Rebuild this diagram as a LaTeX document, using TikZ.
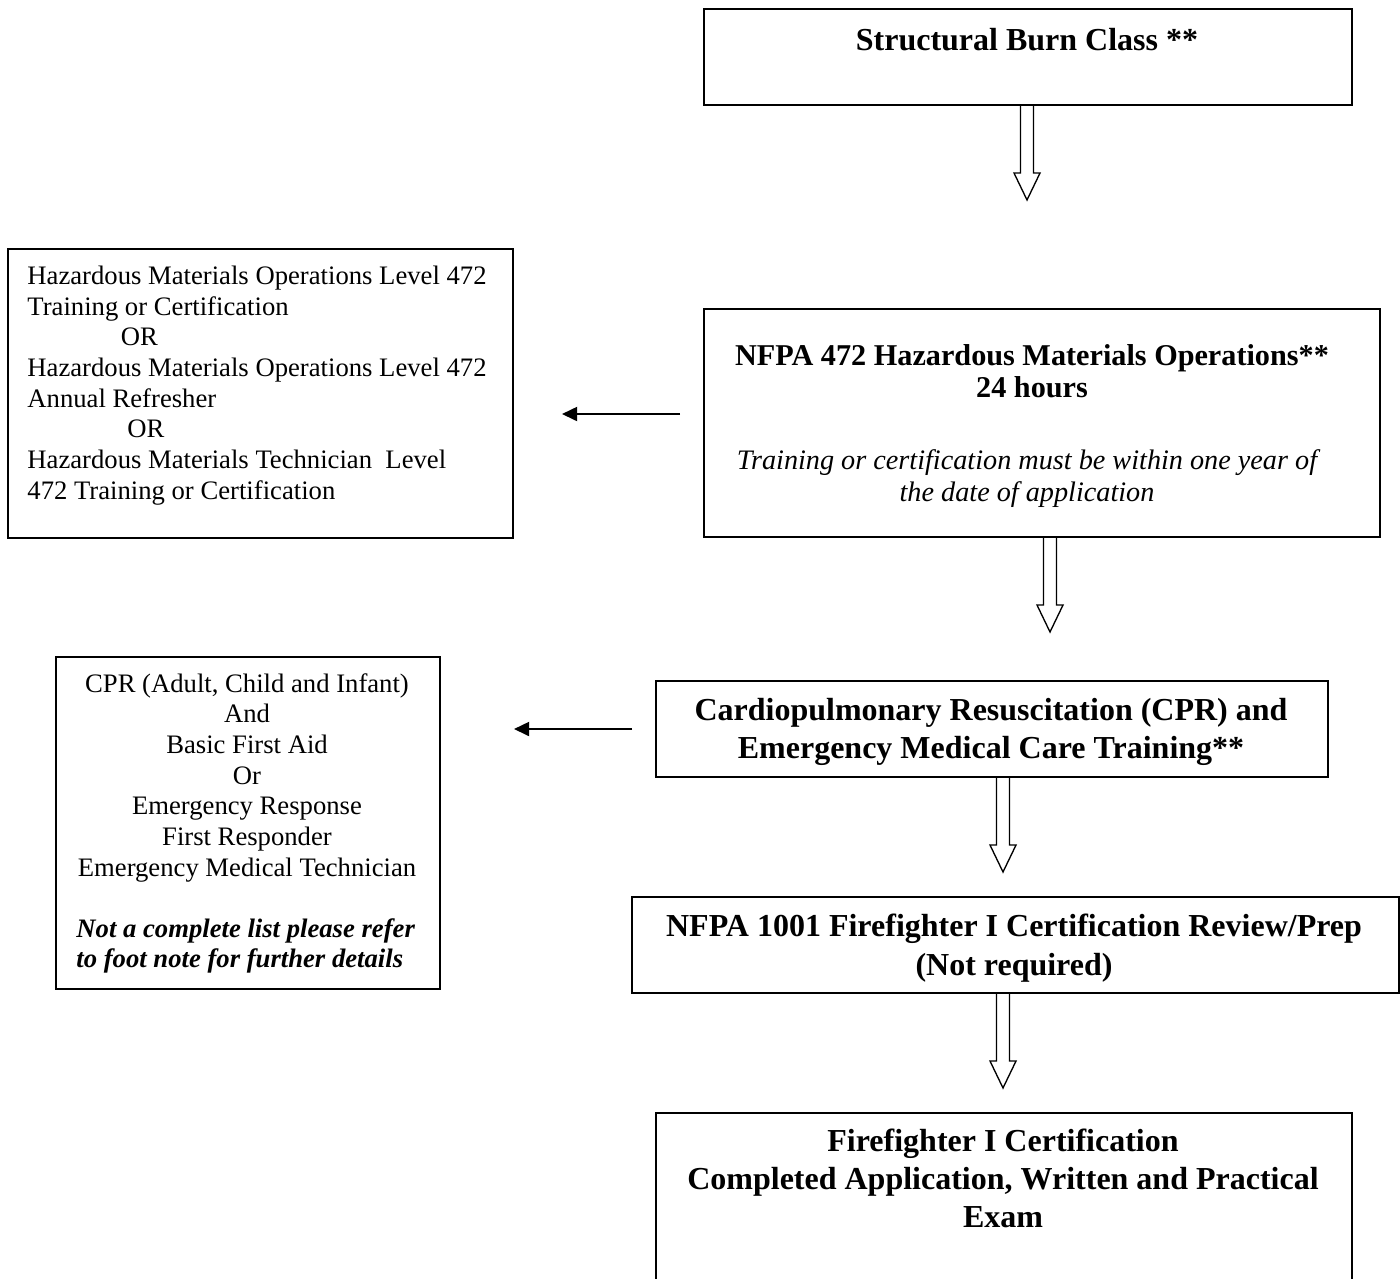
\documentclass[tikz,border=0pt]{standalone}
\usepackage{fontspec}
\setmainfont{Liberation Serif}
\usetikzlibrary{calc,arrows.meta}
\def\pxu{0.45pt}
\tikzset{
  box/.style={draw, line width=0.9pt, anchor=north west, inner sep=0pt},
  hollow/.style={draw, line width=0.6pt, line join=miter},
  sidearrow/.style={line width=0.9pt, -{Triangle[length=6.8pt,width=6.3pt]}},
  rtext/.style={font=\fontsize{12}{13.8}\selectfont, inner sep=0pt, anchor=base, align=center},
  btext/.style={font=\fontsize{14.4}{17.1}\selectfont\bfseries, inner sep=0pt, anchor=base, align=center},
}
\newcommand\hollowarrow[2]{%
  \draw[hollow] ($(#1)+(-6.5,0)$) -- ($(#2)+(-6.5,-27)$) -- ($(#2)+(-13,-27)$) -- (#2)
    -- ($(#2)+(13,-27)$) -- ($(#2)+(6.5,-27)$) -- ($(#1)+(6.5,0)$);}
\begin{document}
\begin{tikzpicture}[x=0.45pt,y=-0.45pt]
\useasboundingbox (0,0) rectangle (1400,1278);
\clip (0,0) rectangle (1400,1278);
\fill[white] (0,0) rectangle (1400,1278);

% boxes
\node[box, minimum width=648*\pxu, minimum height=96*\pxu] (burn) at (703,8) {};
\node[box, minimum width=505*\pxu, minimum height=289*\pxu] (hz) at (7,248) {};
\node[box, minimum width=676*\pxu, minimum height=228*\pxu] (nfpa) at (703,308) {};
\node[box, minimum width=672*\pxu, minimum height=96*\pxu] (cpr) at (655,680) {};
\node[box, minimum width=384*\pxu, minimum height=332*\pxu] (cprl) at (55,656) {};
\node[box, minimum width=767*\pxu, minimum height=96*\pxu] (ffprep) at (631,896) {};
\node[box, minimum width=696*\pxu, minimum height=260*\pxu] (ffcert) at (655,1112) {};

% texts (anchor base = baseline of the last line)
\node[btext] (burnT) at (1027,50) {Structural Burn Class **};
\node[rtext, align=left, anchor=base west] (hzT) at (27,499)
  {Hazardous Materials Operations Level 472\\
   Training or Certification\\
   \hspace*{42pt}OR\\
   Hazardous Materials Operations Level 472\\
   Annual Refresher\\
   \hspace*{45pt}OR\\
   Hazardous Materials Technician\ \ Level\\
   472 Training or Certification};
\node[btext, font=\fontsize{13.6}{14.4}\selectfont\bfseries] (nfpaT) at (1032,397)
  {NFPA 472 Hazardous Materials Operations**\\24 hours};
\node[rtext, font=\fontsize{12.7}{14.4}\selectfont\itshape] (nfpaI) at (1027,501)
  {Training or certification must be within one year of\\the date of application};
\node[btext] (cprT) at (991,758)
  {Cardiopulmonary Resuscitation (CPR) and\\Emergency Medical Care Training**};
\node[rtext] (cprlT) at (247,876)
  {CPR (Adult, Child and Infant)\\And\\Basic First Aid\\Or\\Emergency Response\\First Responder\\Emergency Medical Technician};
\node[rtext, font=\fontsize{12}{13.5}\selectfont\bfseries\itshape, align=left, anchor=base west] (cprlN) at (76,967)
  {Not a complete list please refer\\to foot note for further details};
\node[btext, font=\fontsize{14.4}{17.5}\selectfont\bfseries] (ffprepT) at (1014,975)
  {NFPA 1001 Firefighter I Certification Review/Prep\\(Not required)};
\node[btext] (ffcertT) at (1003,1227)
  {Firefighter I Certification\\Completed Application, Written and Practical\\Exam};

% hollow down arrows
\coordinate (t1) at (1027,200);
\coordinate (s1) at (burn.south -| t1);
\hollowarrow{s1}{t1}
\coordinate (t2) at (1050,632);
\coordinate (s2) at (nfpa.south -| t2);
\hollowarrow{s2}{t2}
\coordinate (t3) at (1003,872);
\coordinate (s3) at (cpr.south -| t3);
\hollowarrow{s3}{t3}
\coordinate (t4) at (1003,1088);
\coordinate (s4) at (ffprep.south -| t4);
\hollowarrow{s4}{t4}

% side arrows
\coordinate (hy) at (0,414);
\draw[sidearrow, shorten <=23*\pxu, shorten >=48*\pxu] (nfpa.west |- hy) -- (hz.east |- hy);
\draw[sidearrow, shorten <=23*\pxu, shorten >=73*\pxu] (cpr.west) -- (cprl.east |- cpr.west);
\end{tikzpicture}
\end{document}
